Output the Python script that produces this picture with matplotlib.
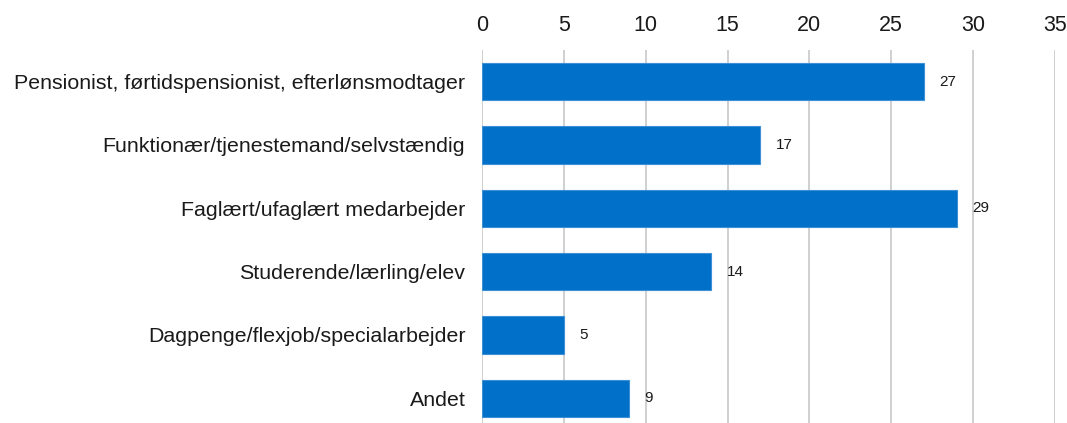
import matplotlib
matplotlib.use("Agg")
import matplotlib.pyplot as plt

categories = [
    "Pensionist, førtidspensionist, efterlønsmodtager",
    "Funktionær/tjenestemand/selvstændig",
    "Faglært/ufaglært medarbejder",
    "Studerende/lærling/elev",
    "Dagpenge/flexjob/specialarbejder",
    "Andet",
]
values = [27, 17, 29, 14, 5, 9]
xticks = [0, 5, 10, 15, 20, 25, 30, 35]

plt.rcParams["font.family"] = ["Liberation Sans", "DejaVu Sans"]

fig = plt.figure(figsize=(10.67, 4.23), dpi=100)
ax = fig.add_axes([482 / 1067, 1 - 430 / 423, 573 / 1067, 380 / 423])

y = list(range(len(categories)))
bars = ax.barh(y, values, height=0.585, color="#0070C8",
               edgecolor="#3d8fd6", linewidth=0.8, zorder=3)

for yi, v in zip(y, values):
    ax.annotate(str(v), xy=(v, yi), xytext=(11, 0), textcoords="offset points",
                ha="left", va="center", fontsize=11, color="#1a1a1a")

ax.set_xlim(0, 35)
ax.set_ylim(len(categories) - 0.5, -0.5)
ax.set_xticks(xticks)
ax.set_yticks(y)
ax.set_yticklabels(categories, fontsize=15.4, color="#1a1a1a")
ax.xaxis.tick_top()
ax.tick_params(axis="x", length=0, pad=10, labelsize=15.5, labelcolor="#1a1a1a")
ax.tick_params(axis="y", length=0, pad=12)
ax.grid(axis="x", color="#c8c8c8", linewidth=1.2, zorder=0)
for s in ax.spines.values():
    s.set_visible(False)

fig.savefig("out.png", dpi=100)
